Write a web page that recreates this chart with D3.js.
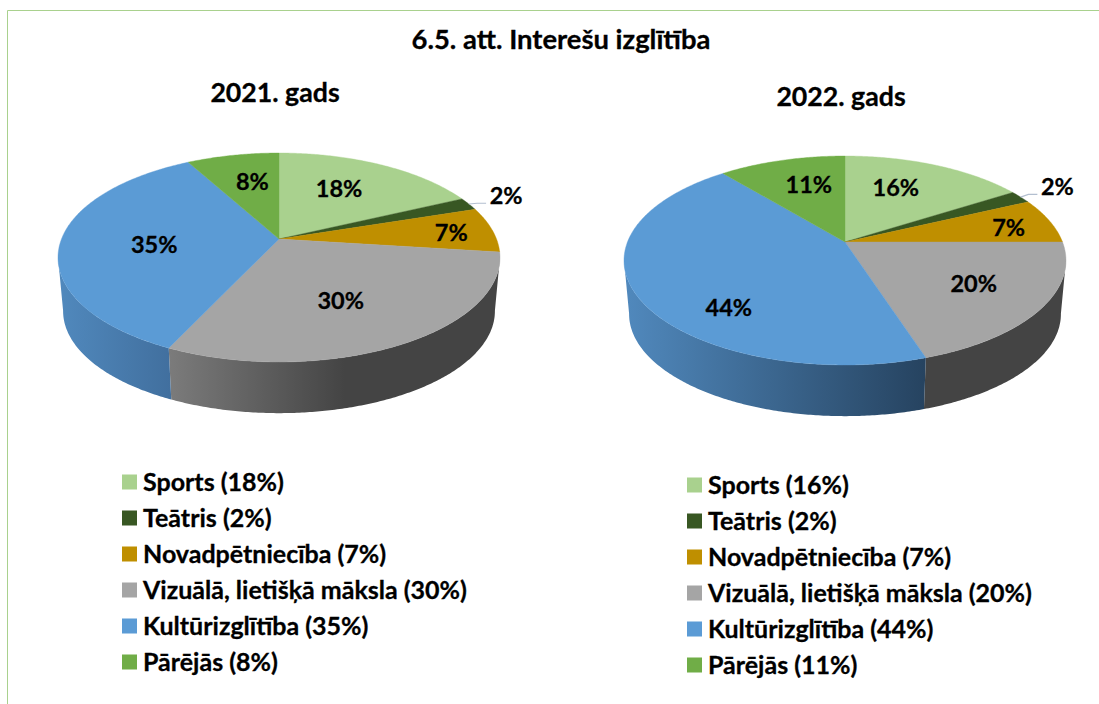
<!DOCTYPE html>
<html>
<head>
<meta charset="utf-8">
<script src="https://cdnjs.cloudflare.com/ajax/libs/d3/7.8.5/d3.min.js"></script>
<style>
html, body { margin: 0; padding: 0; background: #fff; }
svg { display: block; }
text { font-family: Lato, "Open Sans", sans-serif; font-weight: 700; fill: #000; stroke: #000; stroke-width: 0.3px; }
</style>
</head>
<body>
<svg id="chart" width="1099" height="704"></svg>
<script>
var categories = ["Sports", "Teātris", "Novadpētniecība", "Vizuālā, lietišķā māksla", "Kultūrizglītība", "Pārējās"];
var colors = ["#A9D18E", "#385723", "#BF8F00", "#A5A5A5", "#5B9BD5", "#70AD47"];
var values2021 = [18, 2, 7, 30, 35, 8];
var values2022 = [16, 2, 7, 20, 44, 11];
var chartTitle = "6.5. att. Interešu izglītība";
var title2021 = "2021. gads";
var title2022 = "2022. gads";

var svg = d3.select("#chart");
var defs = svg.append("defs");

// Page frame, only top and left show in the picture
svg.append("path").attr("d", "M7.5,704V10.5H1099").attr("fill", "none").attr("stroke", "#a9d18e").attr("stroke-width", 1);

svg.append("text").attr("x", 561).attr("y", 49).attr("text-anchor", "middle").style("font-size", "27.4px").text(chartTitle);

// Tilted disc: a homography so the slice apex sits above the ellipse centre
var K = 0.177, RX = 217.5, RY = 101.2, DEPTH = 54, SHRINK = 0.977;

function project(c, theta, r, bottom) {
  var u = r * Math.sin(theta), v = -r * Math.cos(theta), w = 1 - K * v;
  var s = bottom ? SHRINK : 1;
  return [c.cx + s * RX * u / w, c.cy + (bottom ? DEPTH : 0) + s * RY * v / w];
}

function arcPoints(c, a0, a1, bottom) {
  var n = Math.max(2, Math.ceil((a1 - a0) / 0.01));
  return d3.range(n + 1).map(function (i) {
    return project(c, a0 + (a1 - a0) * i / n, 1, bottom);
  });
}

var line = d3.line();
var SIDE_MIN = 100 * Math.PI / 180, SIDE_MAX = 260 * Math.PI / 180;

function drawPie(c) {
  var g = svg.append("g");
  var slices = d3.pie().sort(null).value(function (d) { return d; })(c.values);

  // rim of the disc, only the part facing the viewer
  slices.forEach(function (s, i) {
    var a0 = Math.max(s.startAngle, SIDE_MIN), a1 = Math.min(s.endAngle, SIDE_MAX);
    if (a1 <= a0) return;
    var stops = c.sideStops[i];
    var id = "side-" + c.key + "-" + i;
    var grad = defs.append("linearGradient").attr("id", id).attr("gradientUnits", "userSpaceOnUse")
      .attr("x1", c.cx + stops.x0).attr("x2", c.cx + stops.x1).attr("y1", 0).attr("y2", 0);
    grad.append("stop").attr("offset", 0).attr("stop-color", stops.from);
    grad.append("stop").attr("offset", 1).attr("stop-color", stops.to);
    var pts = arcPoints(c, a0, a1, false).concat(arcPoints(c, a0, a1, true).reverse());
    g.append("path").attr("d", line(pts) + "Z").attr("fill", "url(#" + id + ")");
  });

  // top face
  slices.forEach(function (s, i) {
    var pts = [[c.cx, c.cy]].concat(arcPoints(c, s.startAngle, s.endAngle, false));
    g.append("path").attr("d", line(pts) + "Z").attr("fill", colors[i]).attr("stroke", colors[i]).attr("stroke-width", 0.4);
  });

  // data labels, anchored on the slice then nudged like the original layout
  slices.forEach(function (s, i) {
    var mid = (s.startAngle + s.endAngle) / 2;
    var p = project(c, mid, 0.65, false);
    var lx = p[0] + c.labelNudge[i][0], ly = p[1] + c.labelNudge[i][1];
    if (i === 1) {
      var rim = project(c, mid, 1, false);
      var endX = lx - 20, endY = ly + 7.5;
      g.append("path").attr("d", line([rim, [endX - 9, endY], [endX, endY]]))
        .attr("fill", "none").attr("stroke", "#b3bfd0").attr("stroke-width", 1.2);
    }
    g.append("text").attr("x", lx).attr("y", ly).attr("dy", "0.35em").attr("text-anchor", "middle")
      .style("font-size", "23.5px").text(c.values[i] + "%");
  });

  svg.append("text").attr("x", c.titleX).attr("y", c.titleY).attr("text-anchor", "middle")
    .style("font-size", "26.7px").text(c.title);

  // legend
  var rows = svg.append("g").selectAll("g").data(categories).enter().append("g")
    .attr("transform", function (d, i) { return "translate(" + c.legendX + "," + (c.legendY + i * 36) + ")"; });
  rows.append("rect").attr("x", 0).attr("y", -7.5).attr("width", 15).attr("height", 15)
    .attr("fill", function (d, i) { return colors[i]; });
  rows.append("text").attr("x", 21).attr("dy", "0.35em").style("font-size", "25px")
    .text(function (d, i) { return d + " (" + c.values[i] + "%)"; });
}

var flat = { x0: 0, x1: 1, from: "#444", to: "#444" };

drawPie({
  key: "a", cx: 279, cy: 239, values: values2021, title: title2021, titleX: 275, titleY: 102,
  legendX: 122, legendY: 482,
  labelNudge: [[-9, 0], [101, -20], [33, 0], [-14, -2], [17, 4], [5, 0]],
  sideStops: [flat, flat, flat,
    { x0: -109, x1: 66, from: "#7b7b7b", to: "#444" },
    { x0: -217, x1: -107, from: "#5088bc", to: "#416f9e" }, flat]
});

drawPie({
  key: "b", cx: 845, cy: 242, values: values2022, title: title2022, titleX: 841, titleY: 106,
  legendX: 687, legendY: 485,
  labelNudge: [[-11, -2], [95, -25], [29, 0], [6, 0], [15, 32], [7, -1]],
  sideStops: [flat, flat, flat, flat,
    { x0: -217, x1: 80, from: "#5088bc", to: "#264360" }, flat]
});
</script>
</body>
</html>
